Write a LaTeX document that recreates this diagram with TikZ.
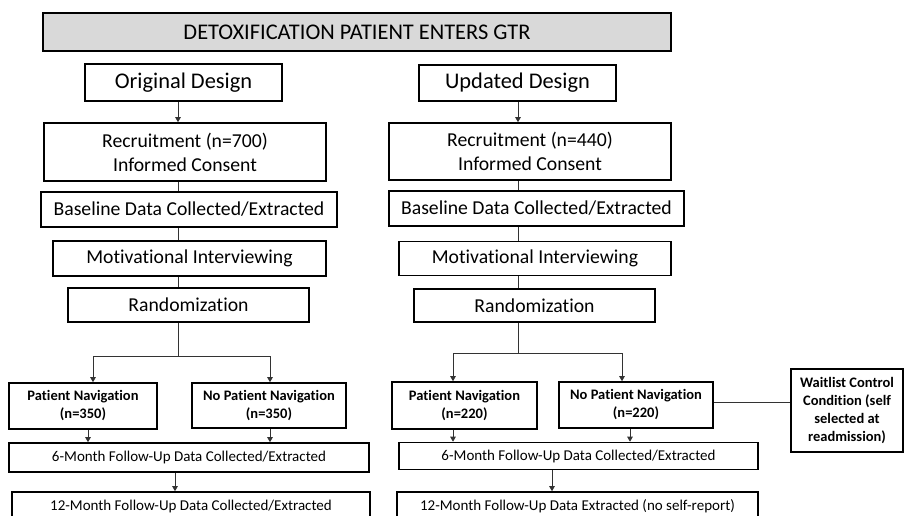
\documentclass[tikz,border=0pt]{standalone}
\usepackage{fontspec}
\setmainfont[Ligatures={NoCommon,NoRequired,NoContextual}]{Carlito}
\usetikzlibrary{arrows.meta}
\definecolor{bannergray}{HTML}{D9D9D9}
\tikzset{
  x=1pt, y=-1pt,
  box/.style={draw=black, line width=1.6pt, fill=white, inner sep=0pt,
    align=center, font=\fontsize{19.7}{24}\selectfont},
  bigbox/.style={box, font=\fontsize{22.4}{26}\selectfont},
  armbox/.style={box, font=\fontsize{14.5}{18}\selectfont\bfseries},
  followbox/.style={box, font=\fontsize{15}{18}\selectfont},
  link/.style={draw=black!80, line width=0.9pt},
  arr/.style={link, -{Triangle[length=5pt, width=5.5pt]}}
}
\begin{document}
\begin{tikzpicture}
\clip (0,0) rectangle (905,515);
\fill[white] (0,0) rectangle (905,515);

% header
\node[bigbox, fill=bannergray, minimum width=628pt, minimum height=38pt] (top) at (357,32) {DETOXIFICATION PATIENT ENTERS GTR};

% original design column
\node[bigbox, minimum width=197pt, minimum height=37pt] (origD) at (183.5,82.5) {Original Design};
\node[box, minimum width=282pt, minimum height=58pt] (recL) at (185,152) {Recruitment (n=700)\\Informed Consent};
\node[box, minimum width=296pt, minimum height=35pt] (baseL) at (189,209.5) {Baseline Data Collected/Extracted};
\node[box, minimum width=273pt, minimum height=35pt] (motL) at (189.5,258.5) {Motivational Interviewing};
\node[box, minimum width=241pt, minimum height=34pt] (randL) at (188.5,305) {Randomization};
\node[armbox, minimum width=148pt, minimum height=46pt] (pnL) at (83,406) {Patient Navigation\\(n=350)};
\node[armbox, minimum width=154pt, minimum height=45pt] (npnL) at (269,405.5) {No Patient Navigation\\(n=350)};
\node[followbox, minimum width=360pt, minimum height=29pt] (sixL) at (189,457.5) {6-Month Follow-Up Data Collected/Extracted};
\node[followbox, minimum width=358pt, minimum height=29pt] (twelveL) at (191,506.5) {12-Month Follow-Up Data Collected/Extracted};

% updated design column
\node[bigbox, minimum width=197pt, minimum height=36pt] (updD) at (517.5,83) {Updated Design};
\node[box, minimum width=282pt, minimum height=57pt] (recR) at (530,151.5) {Recruitment (n=440)\\Informed Consent};
\node[box, minimum width=295pt, minimum height=35pt] (baseR) at (536.5,208.5) {Baseline Data Collected/Extracted};
\node[box, minimum width=272pt, minimum height=34pt] (motR) at (535,258.5) {Motivational Interviewing};
\node[box, minimum width=241pt, minimum height=33pt] (randR) at (534.5,305.5) {Randomization};
\node[armbox, minimum width=145pt, minimum height=47pt] (pnR) at (464.5,405.5) {Patient Navigation\\(n=220)};
\node[armbox, minimum width=154pt, minimum height=46pt] (npnR) at (636,405) {No Patient Navigation\\(n=220)};
\node[followbox, minimum width=359pt, minimum height=27pt] (sixR) at (578.5,456) {6-Month Follow-Up Data Collected/Extracted};
\node[followbox, minimum width=361pt, minimum height=29pt] (twelveR) at (577.5,506.5) {12-Month Follow-Up Data Extracted (no self-report)};
\node[armbox, minimum width=112pt, minimum height=83pt] (wait) at (847,410.5) {Waitlist Control\\Condition (self\\selected at\\readmission)};

% connector columns and branch points
\coordinate (cL) at (178,0);
\coordinate (cR) at (518,0);
\coordinate (splitL) at (178,356);
\coordinate (splitR) at (518,353);
\coordinate (armL1) at (93,0);
\coordinate (armL2) at (270,0);
\coordinate (armR1) at (453,0);
\coordinate (armR2) at (622,0);
\coordinate (outL1) at (88,0);
\coordinate (outL2) at (270,0);
\coordinate (outR1) at (453,0);
\coordinate (outR2) at (630,0);
\coordinate (downL) at (175,0);
\coordinate (downR) at (552,0);

% original design connectors
\draw[arr] (origD.south -| cL) -- (recL.north -| cL);
\draw[link] (recL.south -| cL) -- (baseL.north -| cL);
\draw[link] (baseL.south -| cL) -- (motL.north -| cL);
\draw[link] (motL.south -| cL) -- (randL.north -| cL);
\draw[link] (randL.south -| cL) -- (splitL);
\draw[arr] (splitL) -| (pnL.north -| armL1);
\draw[arr] (splitL) -| (npnL.north -| armL2);
\draw[arr] (pnL.south -| outL1) -- (sixL.north -| outL1);
\draw[arr] (npnL.south -| outL2) -- (sixL.north -| outL2);
\draw[arr] (sixL.south -| downL) -- (twelveL.north -| downL);

% updated design connectors
\draw[arr] (updD.south -| cR) -- (recR.north -| cR);
\draw[link] (recR.south -| cR) -- (baseR.north -| cR);
\draw[link] (baseR.south -| cR) -- (motR.north -| cR);
\draw[link] (motR.south -| cR) -- (randR.north -| cR);
\draw[link] (randR.south -| cR) -- (splitR);
\draw[arr] (splitR) -| (pnR.north -| armR1);
\draw[arr] (splitR) -| (npnR.north -| armR2);
\draw[arr] (pnR.south -| outR1) -- (sixR.north -| outR1);
\draw[arr] (npnR.south -| outR2) -- (sixR.north -| outR2);
\draw[arr] (sixR.south -| downR) -- (twelveR.north -| downR);
\draw[link] (npnR.east |- 0,402) -- (wait.west |- 0,402);
\end{tikzpicture}
\end{document}
